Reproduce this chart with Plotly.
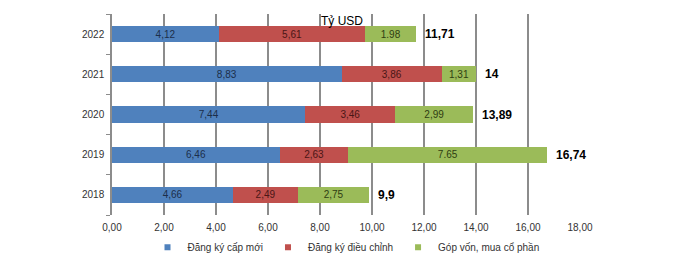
import plotly.graph_objects as go

years = ["2018", "2019", "2020", "2021", "2022"]
new_reg = [4.66, 6.46, 7.44, 8.83, 4.12]
adjust = [2.49, 2.63, 3.46, 3.86, 5.61]
capital = [2.75, 7.65, 2.99, 1.31, 1.98]
new_lbl = ["4,66", "6,46", "7,44", "8,83", "4,12"]
adj_lbl = ["2,49", "2,63", "3,46", "3,86", "5,61"]
cap_lbl = ["2,75", "7.65", "2,99", "1,31", "1.98"]
totals = [9.9, 16.74, 13.89, 14.0, 11.71]
total_lbl = ["9,9", "16,74", "13,89", "14", "11,71"]
names = ["Đăng ký cấp mới", "Đăng ký điều chỉnh", "Góp vốn, mua cổ phần"]
xticks = [0, 2, 4, 6, 8, 10, 12, 14, 16, 18]
xtick_lbl = ["0,00", "2,00", "4,00", "6,00", "8,00", "10,00", "12,00", "14,00", "16,00", "18,00"]
unit = "Tỷ USD"

colors = ["#4F81BD", "#C0504D", "#9BBB59"]
text_colors = ["#1c2e4a", "#4a1616", "#2f3d12"]
FONT = "Liberation Sans, Arial, sans-serif"

fig = go.Figure()
for vals, lbls, c, tc, n in zip([new_reg, adjust, capital], [new_lbl, adj_lbl, cap_lbl],
                                colors, text_colors, names):
    fig.add_trace(go.Bar(
        y=years, x=vals, orientation="h", name=n, marker=dict(color=c, line=dict(width=0)),
        text=lbls, textposition="inside", insidetextanchor="middle", textangle=0,
        constraintext="none", textfont=dict(size=10, color=tc, family=FONT),
        showlegend=False, hoverinfo="x+name",
    ))

for c, n in zip(colors, names):
    fig.add_trace(go.Scatter(
        x=[None], y=[years[0]], mode="markers", name=n,
        marker=dict(symbol="square", size=6, color=c), showlegend=True,
    ))

# category serial index used for annotation placement
for i, (t, lbl) in enumerate(zip(totals, total_lbl)):
    fig.add_annotation(x=t, y=i, text="<b>" + lbl + "</b>", showarrow=False,
                       xanchor="left", xshift=7, font=dict(size=12, color="#000", family=FONT))

fig.add_annotation(x=8.85, y=0.97, yref="paper", text=unit, showarrow=False,
                   xanchor="center", yanchor="middle", yshift=-1,
                   font=dict(size=12, color="#000", family=FONT))

fig.update_layout(
    width=700, height=267, barmode="stack", bargap=0.6,
    margin=dict(l=112, r=120, t=14, b=52, autoexpand=False),
    plot_bgcolor="white", paper_bgcolor="white",
    font=dict(family=FONT, size=10, color="#333"),
    legend=dict(orientation="h", x=0.5, xanchor="center", y=-0.16, yanchor="middle",
                traceorder="normal",
                font=dict(size=10, color="#333"), bgcolor="rgba(0,0,0,0)"),
    xaxis=dict(range=[0, 18], tickvals=xticks, ticktext=xtick_lbl, showgrid=True,
               gridcolor="#8c8c8c", gridwidth=1.5, zeroline=False, showline=False,
               tickfont=dict(size=10, color="#333"), ticks="", ticklabelstandoff=5,
               fixedrange=True),
    yaxis=dict(type="category", categoryorder="array", categoryarray=years,
               range=[-0.5, len(years) - 0.5],
               showline=True, linecolor="#8c8c8c",
               linewidth=1.5, ticks="outside", tickson="boundaries", ticklen=4, tickcolor="#8c8c8c",
               showgrid=False, tickfont=dict(size=10, color="#333"), ticklabelstandoff=4),
)
fig.write_html("out.html")
